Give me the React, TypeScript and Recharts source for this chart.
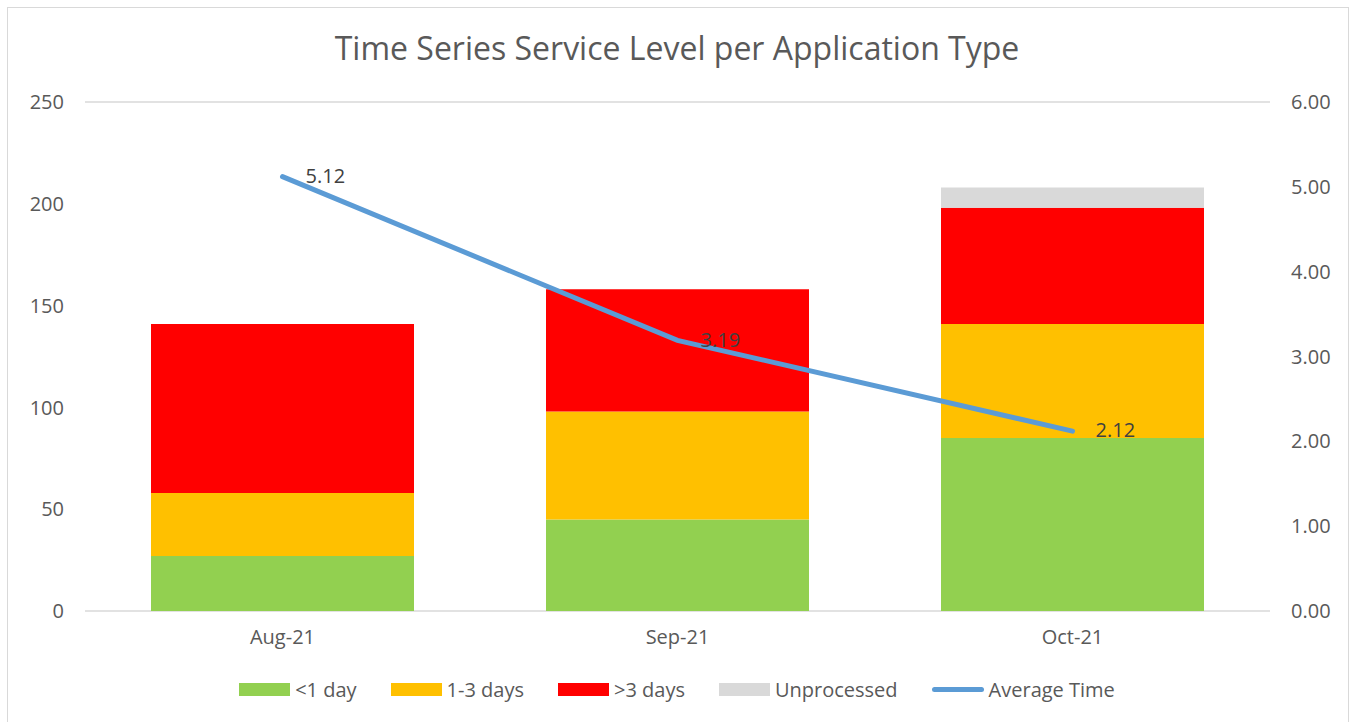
import {
  ComposedChart,
  Bar,
  Line,
  XAxis,
  YAxis,
  CartesianGrid,
  Legend,
  LabelList,
} from "recharts";

const months = ["Aug-21", "Sep-21", "Oct-21"];
const underOneDay = [27, 45, 85];
const oneToThreeDays = [31, 53, 56];
const overThreeDays = [83, 60, 57];
const unprocessed = [0, 0, 10];
const averageTime = [5.12, 3.19, 2.12];

const leftTicks = [0, 50, 100, 150, 200, 250];
const rightTicks = [0, 1, 2, 3, 4, 5, 6];

const FONT = "'Open Sans', sans-serif";
const TEXT = "#595959";

const data = months.map((m, i) => ({
  month: m,
  lt1: underOneDay[i],
  d13: oneToThreeDays[i],
  gt3: overThreeDays[i],
  unp: unprocessed[i],
  avg: averageTime[i],
}));

const legendItems = [
  { label: "<1 day", color: "#92d050", line: false },
  { label: "1-3 days", color: "#ffc000", line: false },
  { label: ">3 days", color: "#ff0000", line: false },
  { label: "Unprocessed", color: "#d9d9d9", line: false },
  { label: "Average Time", color: "#5b9bd5", line: true },
];

function LegendContent() {
  return (
    <div
      style={{
        display: "flex",
        justifyContent: "center",
        alignItems: "center",
        gap: 34,
        fontFamily: FONT,
        fontSize: 20,
        color: TEXT,
      }}
    >
      {legendItems.map((it) => (
        <div key={it.label} style={{ display: "flex", alignItems: "center" }}>
          {it.line ? (
            <div
              style={{
                width: 52,
                height: 5,
                borderRadius: 3,
                background: it.color,
                marginRight: 5,
              }}
            />
          ) : (
            <div
              style={{
                width: 51,
                height: 13,
                background: it.color,
                marginRight: 5,
              }}
            />
          )}
          <span>{it.label}</span>
        </div>
      ))}
    </div>
  );
}

// Excel-style data label: to the right of the point
const renderAvgLabel = (props: any) => {
  const { x, y, value } = props;
  return (
    <text
      x={x + 23}
      y={y + 1}
      dominantBaseline="middle"
      textAnchor="start"
      fontFamily={FONT}
      fontSize={20}
      fill="#404040"
    >
      {Number(value).toFixed(2)}
    </text>
  );
};

export default function App() {
  return (
    <div
      style={{
        position: "absolute",
        left: 0,
        top: 0,
        width: 1354,
        height: 722,
        background: "#fff",
        overflow: "hidden",
      }}
    >
      <div
        style={{
          position: "absolute",
          left: 7,
          top: 7,
          width: 1340,
          height: 730,
          border: "1px solid #d9d9d9",
        }}
      />
      <div
        style={{
          position: "absolute",
          left: 0,
          top: 26,
          width: 1354,
          textAlign: "center",
          fontFamily: FONT,
          fontSize: 32,
          color: TEXT,
        }}
      >
        Time Series Service Level per Application Type
      </div>
      <div style={{ position: "absolute", left: 0, top: 0 }}>
        <ComposedChart
          width={1354}
          height={722}
          data={data}
          margin={{ top: 102, right: 0, left: 0, bottom: 0 }}
          barSize={263}
        >
          <CartesianGrid vertical={false} stroke="#d9d9d9" strokeWidth={1.5} />
          <XAxis
            dataKey="month"
            height={58}
            axisLine={false}
            tickLine={false}
            tickSize={0}
            tickMargin={19}
            tick={{ fill: TEXT, fontSize: 20, fontFamily: FONT }}
          />
          <YAxis
            yAxisId="left"
            width={85}
            domain={[0, 250]}
            ticks={leftTicks}
            axisLine={false}
            tickLine={false}
            tickSize={0}
            tickMargin={21}
            tick={{ fill: TEXT, fontSize: 20, fontFamily: FONT }}
          />
          <YAxis
            yAxisId="right"
            orientation="right"
            width={84}
            domain={[0, 6]}
            ticks={rightTicks}
            axisLine={false}
            tickLine={false}
            tickSize={0}
            tickMargin={21}
            tickFormatter={(v: number) => v.toFixed(2)}
            tick={{ fill: TEXT, fontSize: 20, fontFamily: FONT, textAnchor: "start" }}
          />
          <Legend
            verticalAlign="bottom"
            content={<LegendContent />}
            wrapperStyle={{ height: 53, paddingTop: 7, boxSizing: "border-box" }}
          />
          <Bar yAxisId="left" dataKey="lt1" name="<1 day" stackId="a" fill="#92d050" isAnimationActive={false} />
          <Bar yAxisId="left" dataKey="d13" name="1-3 days" stackId="a" fill="#ffc000" isAnimationActive={false} />
          <Bar yAxisId="left" dataKey="gt3" name=">3 days" stackId="a" fill="#ff0000" isAnimationActive={false} />
          <Bar yAxisId="left" dataKey="unp" name="Unprocessed" stackId="a" fill="#d9d9d9" isAnimationActive={false} />
          <Line
            yAxisId="right"
            dataKey="avg"
            name="Average Time"
            stroke="#5b9bd5"
            strokeWidth={5}
            strokeLinecap="round"
            dot={false}
            isAnimationActive={false}
          >
            <LabelList dataKey="avg" content={renderAvgLabel} />
          </Line>
        </ComposedChart>
      </div>
    </div>
  );
}
